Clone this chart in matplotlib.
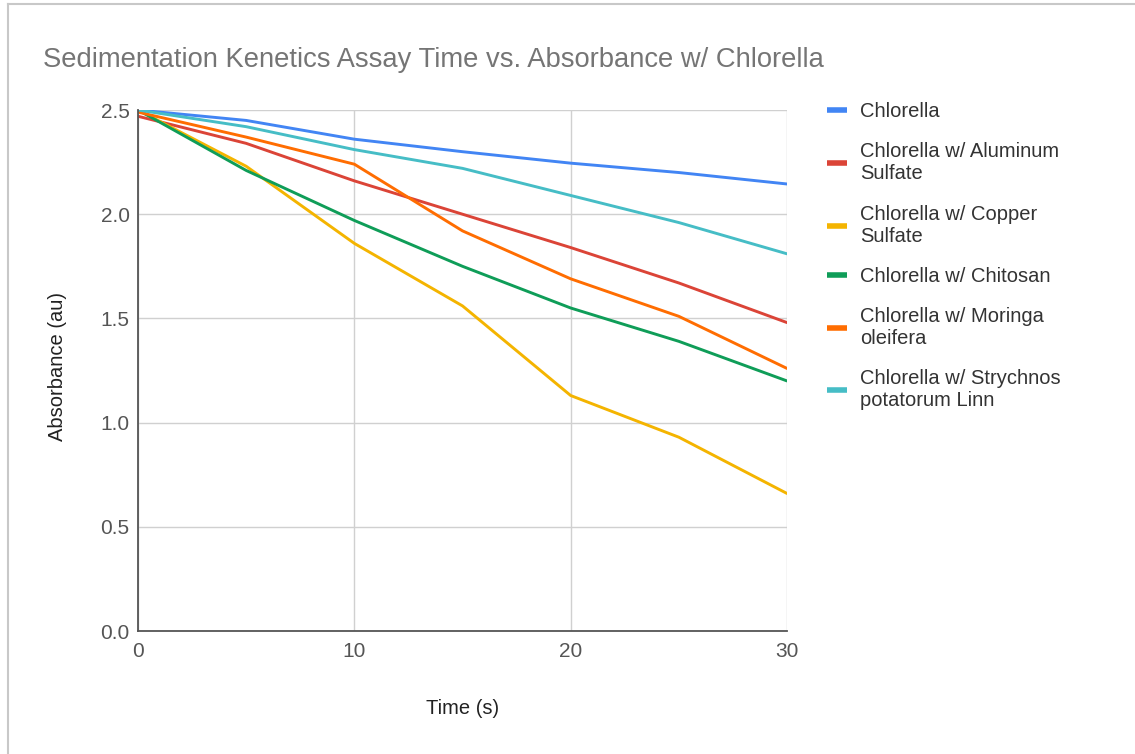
import numpy as np
import matplotlib
matplotlib.use("Agg")
import matplotlib.pyplot as plt
from matplotlib.lines import Line2D

plt.rcParams['font.family'] = ['Liberation Sans', 'DejaVu Sans']

time_s = [0, 5, 10, 15, 20, 25, 30]

chlorella = [2.50, 2.45, 2.36, 2.30, 2.245, 2.20, 2.145]
aluminum = [2.47, 2.34, 2.16, 2.00, 1.84, 1.67, 1.48]
copper = [2.50, 2.23, 1.86, 1.56, 1.13, 0.93, 0.66]
chitosan = [2.50, 2.21, 1.97, 1.75, 1.55, 1.39, 1.20]
moringa = [2.49, 2.37, 2.24, 1.92, 1.69, 1.51, 1.26]
strychnos = [2.50, 2.42, 2.31, 2.22, 2.09, 1.96, 1.81]

labels = ["Chlorella", "Chlorella w/ Aluminum\nSulfate", "Chlorella w/ Copper\nSulfate",
          "Chlorella w/ Chitosan", "Chlorella w/ Moringa\noleifera",
          "Chlorella w/ Strychnos\npotatorum Linn"]
colors = ["#4285F4", "#DB4437", "#F4B400", "#0F9D58", "#FF6D01", "#46BDC6"]
series = [chlorella, aluminum, copper, chitosan, moringa, strychnos]

fig = plt.figure(figsize=(11.35, 7.54), dpi=100)
ax = fig.add_axes([0.1216, 0.1631, 0.5718, 0.691])

for y, lab, c in zip(series, labels, colors):
    ax.plot(time_s, y, color=c, lw=2.1, label=lab, solid_capstyle='round')

ax.set_xlim(0, 30)
ax.set_ylim(0, 2.5)
ax.set_xticks([0, 10, 20, 30])
ax.set_yticks([0, 0.5, 1.0, 1.5, 2.0, 2.5])
ax.set_yticklabels(["0.0", "0.5", "1.0", "1.5", "2.0", "2.5"])
ax.grid(True, color="#d0d0d0", lw=1.0)
ax.set_axisbelow(True)
for s in ["top", "right"]:
    ax.spines[s].set_visible(False)
ax.spines["left"].set_color("#555555")
ax.spines["bottom"].set_color("#555555")
ax.spines["left"].set_linewidth(1.3)
ax.spines["bottom"].set_linewidth(1.3)
ax.tick_params(length=0, labelsize=15, colors="#555555")
ax.tick_params(axis="y", pad=6)
ax.tick_params(axis="x", pad=8)

ax.set_xlabel("Time (s)", fontsize=14.5, color="#222222", va="center")
ax.xaxis.set_label_coords(0.5, -0.148)
ax.set_ylabel("Absorbance (au)", fontsize=14.5, color="#222222", va="center")
ax.yaxis.set_label_coords(-0.124, 0.507)

fig.text(0.038, 0.921, "Sedimentation Kenetics Assay Time vs. Absorbance w/ Chlorella",
         fontsize=19.7, color="#757575", va="center")

leg = fig.legend(loc="upper left", bbox_to_anchor=(0.7216, 0.875), frameon=False,
                 fontsize=14.5, handlelength=1.0, handletextpad=0.65, labelspacing=1.05,
                 borderaxespad=0)
for h in leg.get_lines():
    h.set_linewidth(4)
    h.set_solid_capstyle('butt')
for t in leg.get_texts():
    t.set_color("#333333")
    t.set_linespacing(1.2)

# screenshot frame edges
fig.add_artist(Line2D([8 / 1135, 8 / 1135], [0, 1 - 4 / 754], transform=fig.transFigure,
                      color="#c8c8c8", lw=1.5))
fig.add_artist(Line2D([8 / 1135, 1], [1 - 4 / 754, 1 - 4 / 754], transform=fig.transFigure,
                      color="#c8c8c8", lw=1.5))

fig.savefig("out.png", dpi=100)
